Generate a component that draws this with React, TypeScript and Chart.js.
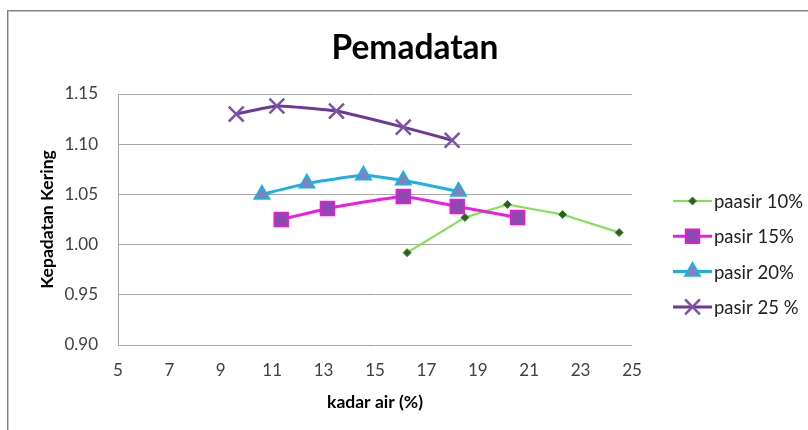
import React, { useEffect, useRef } from 'react';
import { Chart, registerables } from 'chart.js';

Chart.register(...registerables);

// ---- data ----
const chartTitle = 'Pemadatan';
const xTitle = 'kadar air (%)';
const yTitle = 'Kepadatan Kering';
const seriesNames = ['paasir 10%', 'pasir 15%', 'pasir 20%', 'pasir 25 %'];

const x10 = [16.25, 18.5, 20.15, 22.3, 24.5];
const y10 = [0.992, 1.027, 1.04, 1.03, 1.012];
const x15 = [11.35, 13.15, 16.1, 18.2, 20.55];
const y15 = [1.025, 1.036, 1.048, 1.038, 1.027];
const x20 = [10.6, 12.35, 14.55, 16.1, 18.25];
const y20 = [1.05, 1.061, 1.069, 1.064, 1.053];
const x25 = [9.6, 11.18, 13.5, 16.1, 18.0];
const y25 = [1.13, 1.138, 1.133, 1.117, 1.104];

const xMin = 5, xMax = 25, xStep = 2;
const yMin = 0.9, yMax = 1.15, yStep = 0.05;

const FONT = 'Lato, "Open Sans", sans-serif';

type Style = {
  line: string; width: number; point: string; radius: number;
  fill: string; stroke: string; bw: number; tension: number;
};
const styles: Style[] = [
  { line: '#7fe14e', width: 2, point: 'rectRot', radius: 4, fill: '#2c5e1e', stroke: '#3f8a2a', bw: 1, tension: 0 },
  { line: '#ec1ee4', width: 3, point: 'rect', radius: 9.5, fill: '#8b4aae', stroke: '#e01ed8', bw: 2, tension: 0.12 },
  { line: '#1fb0e2', width: 3, point: 'triangle', radius: 8.5, fill: '#8c7db8', stroke: '#1fb0e2', bw: 2, tension: 0.12 },
  { line: '#6b3a99', width: 3, point: 'crossRot', radius: 10.5, fill: '#7d52a8', stroke: '#7d52a8', bw: 2.5, tension: 0.12 },
];

const xs = [x10, x15, x20, x25];
const ys = [y10, y15, y20, y25];

function drawMarker(ctx: CanvasRenderingContext2D, s: Style, x: number, y: number) {
  const r = s.radius;
  ctx.save();
  ctx.fillStyle = s.fill;
  ctx.strokeStyle = s.stroke;
  ctx.lineWidth = s.bw;
  ctx.beginPath();
  if (s.point === 'rectRot') {
    ctx.moveTo(x - r, y); ctx.lineTo(x, y - r); ctx.lineTo(x + r, y); ctx.lineTo(x, y + r); ctx.closePath();
    ctx.fill(); ctx.stroke();
  } else if (s.point === 'rect') {
    const h = r * Math.SQRT1_2;
    ctx.rect(x - h, y - h, 2 * h, 2 * h);
    ctx.fill(); ctx.stroke();
  } else if (s.point === 'triangle') {
    for (let i = 0; i < 3; i++) {
      const a = (i * 2 * Math.PI) / 3;
      const px = x + Math.sin(a) * r, py = y - Math.cos(a) * r;
      if (i === 0) ctx.moveTo(px, py); else ctx.lineTo(px, py);
    }
    ctx.closePath();
    ctx.fill(); ctx.stroke();
  } else {
    const d = r * Math.SQRT1_2;
    ctx.moveTo(x - d, y - d); ctx.lineTo(x + d, y + d);
    ctx.moveTo(x + d, y - d); ctx.lineTo(x - d, y + d);
    ctx.stroke();
  }
  ctx.restore();
}

const overlayPlugin = {
  id: 'overlay',
  afterDraw(chart: any) {
    const ctx: CanvasRenderingContext2D = chart.ctx;
    ctx.save();
    ctx.fillStyle = '#000';
    ctx.font = `bold 33.5px ${FONT}`;
    ctx.textAlign = 'center';
    ctx.textBaseline = 'alphabetic';
    ctx.fillText(chartTitle, 415, 59);

    ctx.font = `18.5px ${FONT}`;
    ctx.textAlign = 'left';
    ctx.textBaseline = 'middle';
    seriesNames.forEach((name, i) => {
      const s = styles[i];
      const y = 201 + i * 35.3;
      ctx.strokeStyle = s.line;
      ctx.lineWidth = s.width;
      ctx.beginPath();
      ctx.moveTo(673, y);
      ctx.lineTo(712, y);
      ctx.stroke();
      drawMarker(ctx, s, 692.5, y);
      ctx.fillStyle = '#222';
      ctx.fillText(name, 714, y + 1);
    });
    ctx.restore();
  },
};

export default function App() {
  const ref = useRef<HTMLCanvasElement>(null);

  useEffect(() => {
    if (!ref.current) return;
    const datasets = seriesNames.map((name, i) => {
      const s = styles[i];
      return {
        label: name,
        data: xs[i].map((x, j) => ({ x, y: ys[i][j] })),
        borderColor: s.line,
        backgroundColor: s.line,
        borderWidth: s.width,
        pointStyle: s.point,
        pointRadius: s.radius,
        pointHoverRadius: s.radius,
        pointBackgroundColor: s.fill,
        pointBorderColor: s.stroke,
        pointBorderWidth: s.bw,
        tension: s.tension,
        fill: false,
        order: 3 - i,
      };
    });

    const chart = new Chart(ref.current, {
      type: 'line',
      data: { datasets } as any,
      options: {
        animation: false,
        responsive: false,
        devicePixelRatio: 1,
        layout: { padding: { left: 0, top: 94, right: 176, bottom: 0 } },
        plugins: {
          legend: { display: false },
          title: { display: false },
          tooltip: { enabled: false },
        },
        scales: {
          x: {
            type: 'linear',
            min: xMin,
            max: xMax,
            ticks: {
              stepSize: xStep,
              padding: 15,
              color: '#404040',
              font: { family: FONT, size: 17 },
            },
            grid: { display: false, drawTicks: false },
            border: { display: false },
            title: {
              display: true,
              text: xTitle,
              color: '#000',
              font: { family: FONT, size: 17.5, weight: 'bold' },
              padding: { top: 0, bottom: 17 },
            },
            afterFit(s: any) { s.height = 85; },
          },
          y: {
            type: 'linear',
            min: yMin,
            max: yMax,
            ticks: {
              stepSize: yStep,
              padding: 20,
              color: '#404040',
              font: { family: FONT, size: 17 },
              callback: (v: any) => Number(v).toFixed(2),
            },
            grid: { color: '#a6a6a6', lineWidth: 1, drawTicks: false },
            border: { display: true, color: '#a6a6a6' },
            title: {
              display: true,
              text: yTitle,
              color: '#000',
              font: { family: FONT, size: 17.5, weight: 'bold' },
              padding: { top: 37, bottom: 0 },
            },
            afterFit(s: any) { s.width = 118; },
          },
        },
      } as any,
      plugins: [overlayPlugin],
    });
    return () => chart.destroy();
  }, []);

  return (
    <div style={{ position: 'fixed', left: 0, top: 0, width: 808, height: 430, overflow: 'hidden', background: '#fff' }}>
      <div style={{ position: 'absolute', left: 7, top: 10, width: 900, height: 600, border: '1px solid #808080', boxShadow: 'inset 1px 1px 0 #c4c4c4' }} />
      <canvas ref={ref} width={808} height={430} style={{ position: 'absolute', left: 0, top: 0, width: 808, height: 430 }} />
    </div>
  );
}
